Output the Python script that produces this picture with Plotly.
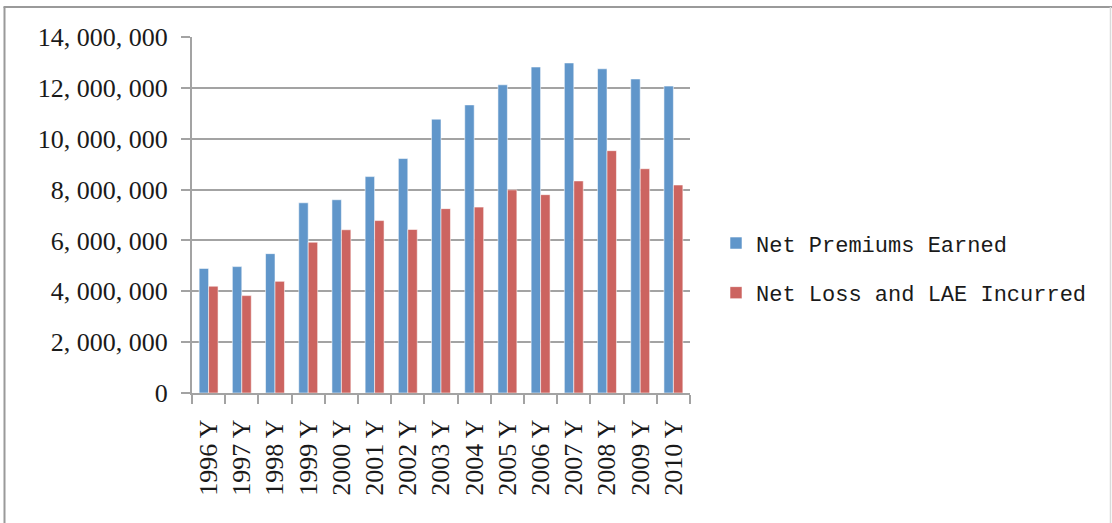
import plotly.graph_objects as go

# Annual figures, 1996-2010
years = ["1996 Y", "1997 Y", "1998 Y", "1999 Y", "2000 Y", "2001 Y", "2002 Y", "2003 Y",
         "2004 Y", "2005 Y", "2006 Y", "2007 Y", "2008 Y", "2009 Y", "2010 Y"]
net_premiums_earned = [4900000, 4970000, 5480000, 7480000, 7600000, 8510000, 9220000, 10770000,
                       11330000, 12120000, 12820000, 12980000, 12750000, 12350000, 12070000]
net_loss_lae_incurred = [4200000, 3830000, 4390000, 5930000, 6420000, 6780000, 6430000, 7250000,
                         7310000, 7990000, 7800000, 8340000, 9530000, 8820000, 8180000]

y_tick_values = [0, 2000000, 4000000, 6000000, 8000000, 10000000, 12000000, 14000000]
y_tick_labels = ["0", "2, 000, 000", "4, 000, 000", "6, 000, 000", "8, 000, 000",
                 "10, 000, 000", "12, 000, 000", "14, 000, 000"]

W, H = 1112, 523
L, R, T, B = 192, 690, 36.5, 393

grid_color = "#A3A3A3"
text_color = "#1a1a1a"

fig = go.Figure()
fig.add_trace(go.Bar(
    x=years, y=net_premiums_earned, name="Net Premiums Earned",
    legendgroup="a",
    marker=dict(color="#6096CA", line=dict(color="rgba(255,255,255,0.55)", width=1)),
))
fig.add_trace(go.Bar(
    x=years, y=net_loss_lae_incurred, name="Net Loss and LAE Incurred",
    legendgroup="b",
    marker=dict(color="#CC6460", line=dict(color="rgba(255,255,255,0.55)", width=1)),
))

def px_x(p):
    return (p - L) / (R - L)

def px_y(p):
    return (B - p) / (B - T)

# outer frame of the chart area
fig.add_shape(type="line", xref="paper", yref="paper",
              x0=px_x(4.5), x1=px_x(4.5), y0=px_y(6.5), y1=px_y(530),
              line=dict(color="#9A9A9A", width=2))
fig.add_shape(type="line", xref="paper", yref="paper",
              x0=px_x(3.5), x1=px_x(1112), y0=px_y(6.5), y1=px_y(6.5),
              line=dict(color="#9A9A9A", width=2))
fig.add_shape(type="line", xref="paper", yref="paper",
              x0=px_x(1110.5), x1=px_x(1110.5), y0=px_y(6.5), y1=px_y(530),
              line=dict(color="#DADADA", width=1.5))

fig.update_layout(
    width=W, height=H,
    margin=dict(l=L, r=W - R, t=T, b=H - B, pad=0),
    paper_bgcolor="white", plot_bgcolor="white",
    barmode="group", bargap=0.43, bargroupgap=0,
    font=dict(family="Liberation Serif", size=26, color=text_color),
    legend=dict(
        x=px_x(716), y=px_y(222), xanchor="left", yanchor="top",
        font=dict(family="Liberation Mono", size=22, color=text_color),
        traceorder="grouped", tracegroupgap=18,
        itemwidth=30, bgcolor="rgba(0,0,0,0)",
    ),
    xaxis=dict(
        type="category", tickangle=-90,
        showline=True, linecolor=grid_color, linewidth=2,
        ticks="outside", tickson="boundaries", ticklen=9, tickwidth=2, tickcolor=grid_color,
        ticklabelstandoff=14,
        showgrid=False, zeroline=False,
        tickfont=dict(family="Liberation Serif", size=26, color=text_color),
    ),
    yaxis=dict(
        range=[0, 14000000], tickvals=y_tick_values, ticktext=y_tick_labels,
        showline=True, linecolor=grid_color, linewidth=2,
        ticks="outside", ticklen=9, tickwidth=2, tickcolor=grid_color,
        ticklabelstandoff=8,
        showgrid=True, gridcolor=grid_color, gridwidth=2,
        zeroline=False,
        tickfont=dict(family="Liberation Serif", size=26, color=text_color),
    ),
)

fig.write_html("out.html")
